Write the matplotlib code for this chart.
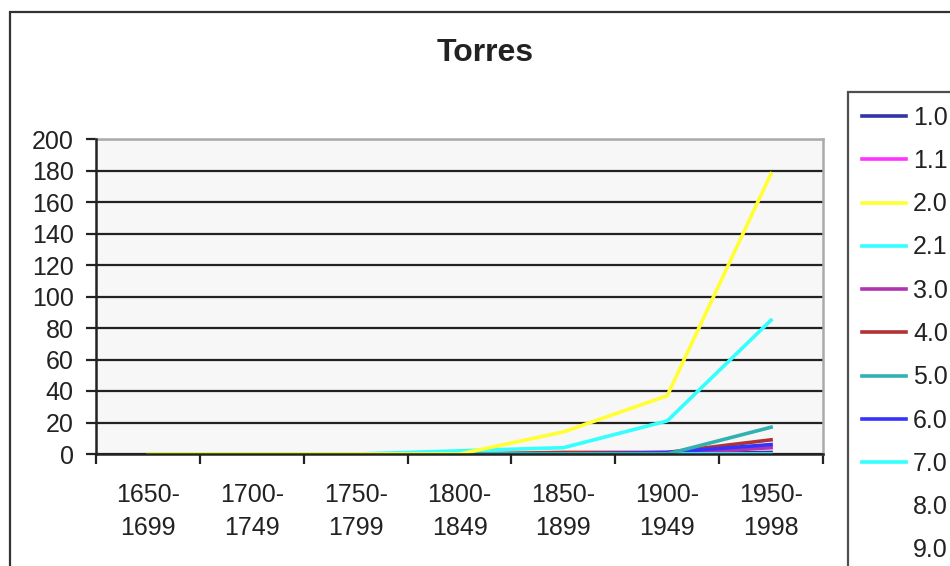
import matplotlib
matplotlib.use("Agg")
import matplotlib.pyplot as plt
from matplotlib.patches import Rectangle

plt.rcParams['font.family'] = ['Liberation Sans', 'DejaVu Sans']

periods = ['1650-\n1699', '1700-\n1749', '1750-\n1799', '1800-\n1849',
           '1850-\n1899', '1900-\n1949', '1950-\n1998']
series_names = ['1.0', '1.1', '2.0', '2.1', '3.0', '4.0', '5.0', '6.0', '7.0', '8.0', '9.0']
s_1_0 = [0, 0, 0, 0, 0, 0, 1]
s_1_1 = [0, 0, 0, 0, 0, 0, 0]
s_2_0 = [0, 0, 0, 0, 14, 37, 178]
s_2_1 = [0, 0, 0, 2, 4, 21, 85]
s_3_0 = [0, 0, 0, 0, 0, 0, 4]
s_4_0 = [0, 0, 0, 0, 1, 1, 9]
s_5_0 = [0, 0, 0, 0, 0, 0, 17]
s_6_0 = [0, 0, 0, 0, 0, 1, 6]
s_7_0 = [0, 0, 0, 0, 0, 0, 0]
s_8_0 = [0, 0, 0, 0, 0, 0, 0]
s_9_0 = [0, 0, 0, 0, 0, 0, 0]
all_series = [s_1_0, s_1_1, s_2_0, s_2_1, s_3_0, s_4_0, s_5_0, s_6_0, s_7_0, s_8_0, s_9_0]
colors = ['#3333aa', '#ff33ff', '#ffff33', '#33ffff', '#b033b0', '#b03333',
          '#33b0b0', '#3333ff', '#33ffff', 'none', 'none']

fig = plt.figure(figsize=(9.5, 5.66), dpi=100)
ax = fig.add_axes([96 / 950, 1 - 454 / 566, (823 - 96) / 950, (454 - 139) / 566])
ax.set_facecolor('#f7f7f7')

x = list(range(len(periods)))
# draw zero-heavy series first so the visible ones sit on top
order = [0, 1, 4, 5, 7, 8, 9, 10, 6, 3, 2]
lines = {}
for i in order:
    ln, = ax.plot(x, all_series[i], color=colors[i], lw=2.6, label=series_names[i],
                  solid_joinstyle='miter', zorder=3)
    lines[i] = ln

ax.set_xlim(-0.5, len(periods) - 0.5)
ax.set_ylim(0, 200)
ax.set_yticks(range(0, 201, 20))
ax.yaxis.grid(True, color='#222222', lw=1.6, zorder=1)
ax.set_axisbelow(True)

ax.set_xticks([i - 0.5 for i in range(len(periods) + 1)])
ax.set_xticklabels([])
ax.set_xticks(x, minor=True)
ax.set_xticklabels(periods, minor=True, fontsize=18, color='#222222', linespacing=1.47)
ax.tick_params(axis='x', which='minor', length=0, pad=21)
ax.tick_params(axis='x', which='major', direction='out', length=7, width=1.6, color='#222222')
ax.tick_params(axis='y', direction='out', length=7, width=1.6, color='#222222',
               labelsize=18, labelcolor='#222222', pad=9)

for side in ['left', 'bottom']:
    ax.spines[side].set_color('#222222')
    ax.spines[side].set_linewidth(1.8)
    ax.spines[side].set_zorder(4)
for side in ['top', 'right']:
    ax.spines[side].set_color('#aaaaaa')
    ax.spines[side].set_linewidth(1.8)

fig.text(485 / 950, 1 - 53 / 566, 'Torres', ha='center', va='center',
         fontsize=23, fontweight='bold', color='#222222')

# outer chart border
fig.patches.append(Rectangle((10 / 950, -0.1), 1.0, 1 - 12 / 566 + 0.1,
                             transform=fig.transFigure, fill=False,
                             edgecolor='#333333', lw=1.6))

handles = [lines[i] for i in range(len(series_names))]
leg = fig.legend(handles, series_names, loc='upper left',
                 bbox_to_anchor=(848 / 950, 1 - 92 / 566), frameon=True,
                 fontsize=18, handlelength=1.75, handletextpad=0.3,
                 labelspacing=0.77, borderpad=0.55, borderaxespad=0, fancybox=False)
leg.get_frame().set_edgecolor('#222222')
leg.get_frame().set_linewidth(1.6)
for t in leg.get_texts():
    t.set_color('#222222')

fig.savefig('out.png', dpi=100)
